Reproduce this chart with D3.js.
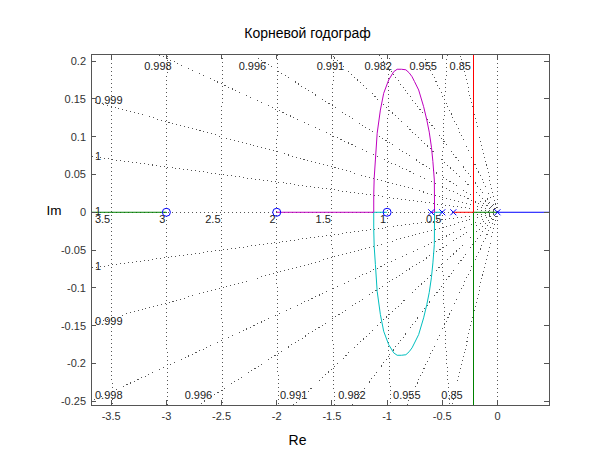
<!DOCTYPE html>
<html>
<head>
<meta charset="utf-8">
<script src="https://cdn.jsdelivr.net/npm/d3@7"></script>
<style>
    body { margin: 0; background: #fff; }
    svg { display: block; font-family: "Liberation Sans", Arial, sans-serif; }
</style>
</head>
<body>
<div id="chart"></div>
<script>
// open loop poles / zeros (real axis)
const poles = [0, -0.4, -0.5, -0.6];
const zeros = [-1, -2, -3];

// upper half of the complex loop, from break-away to break-in point
const loopRe = [-0.570, -0.572, -0.585, -0.598, -0.618, -0.640, -0.669, -0.714, -0.752, -0.774, -0.800, -0.830,
    -0.870, -0.909, -0.940, -0.986, -1.031, -1.061, -1.090, -1.106, -1.117, -1.121, -1.121];
const loopIm = [0, 0.0427, 0.067, 0.086, 0.106, 0.122, 0.1397, 0.1618, 0.173, 0.1794, 0.1845, 0.1885,
    0.1892, 0.1892, 0.186, 0.175, 0.1574, 0.1352, 0.1045, 0.0692, 0.045, 0.0229, 0];

// centre of the vertical asymptotes
const asymptoteRe = -0.217;

const xTicks = [-3.5, -3, -2.5, -2, -1.5, -1, -0.5, 0];
const yTicks = [-0.25, -0.2, -0.15, -0.1, -0.05, 0, 0.05, 0.1, 0.15, 0.2];
const xDomain = [-3.683, 0.467];
const yDomain = [-0.255, 0.209];

// sgrid: damping ratio rays and natural frequency circles
const zetaValues = [1, 0.9998, 0.9992, 0.9977, 0.9956, 0.9906, 0.9818, 0.955, 0.85, 0];
const zetaLabels = ["1", "1", "0.999", "0.998", "0.996", "0.991", "0.982", "0.955", "0.85", ""];
const wnValues = [0.5, 1, 1.5, 2, 2.5, 3, 3.5];

const titleText = "Корневой годограф";
const xLabelText = "Re";
const yLabelText = "Im";

class RootLocusChart {
    constructor(container) {
        this.width = 607;
        this.height = 456;
        this.box = { left: 91, right: 549, top: 54.3, bottom: 405 };
        this.colors = {
            blue: "#0000ff",
            green: "#008000",
            red: "#ff0000",
            cyan: "#00bfbf",
            magenta: "#bf00bf",
        };
        this._initContainer(container);
        this.x = d3.scaleLinear().domain(xDomain).range([this.box.left, this.box.right]);
        this.y = d3.scaleLinear().domain(yDomain).range([this.box.bottom, this.box.top]);
    }

    Draw() {
        this._drawGrid();
        this._drawLocus();
        this._drawMarkers();
        this._drawAxes();
        this._drawLabels();
    }

    _initContainer(container) {
        this.svg = d3.select(container).append("svg")
            .attr("width", this.width)
            .attr("height", this.height);

        this.svg.append("defs").append("clipPath").attr("id", "plot-clip")
            .append("rect")
            .attr("x", this.box.left)
            .attr("y", this.box.top)
            .attr("width", this.box.right - this.box.left)
            .attr("height", this.box.bottom - this.box.top);

        this.plot = this.svg.append("g").attr("clip-path", "url(#plot-clip)");
    }

    _drawGrid() {
        const x = this.x, y = this.y;
        const g = this.plot.append("g")
            .attr("fill", "none")
            .attr("stroke", "#555")
            .attr("stroke-width", 1)
            .attr("stroke-dasharray", "1,3")
            .attr("shape-rendering", "crispEdges");
        const line = d3.line().x(d => x(d[0])).y(d => y(d[1]));

        // damping rays, upper and lower
        zetaValues.forEach(z => {
            const s = Math.sqrt(1 - z * z);
            g.append("path").attr("d", line([[0, 0], [-10 * z, 10 * s]]));
            if (s > 0)
                g.append("path").attr("d", line([[0, 0], [-10 * z, -10 * s]]));
        });

        // natural frequency half circles
        const angles = d3.range(0, 181).map(a => (90 + a) * Math.PI / 180);
        wnValues.forEach(wn => {
            g.append("path").attr("d", line(angles.map(t => [wn * Math.cos(t), wn * Math.sin(t)])));
        });

        // grid labels
        const lg = this.svg.append("g")
            .attr("font-size", 11)
            .attr("fill", "#222");

        wnValues.forEach(wn => {
            lg.append("text")
                .attr("x", x(-wn) - 1)
                .attr("y", y(0) + 11)
                .attr("text-anchor", "end")
                .text(d3.format("~g")(wn));
        });

        const b = this.box;
        const x0 = x(0), y0 = y(0);
        const kx = x(0) - x(-1), ky = y(0) - y(1);
        zetaValues.forEach((z, i) => {
            const label = zetaLabels[i];
            if (!label) return;
            const dx = z * kx, dy = Math.sqrt(1 - z * z) * ky;
            const sides = dy > 0 ? [1, -1] : [1];
            sides.forEach(sign => {
                const distY = sign > 0 ? y0 - b.top : b.bottom - y0;
                const distX = x0 - b.left;
                if (dy > 0 && distY / dy * dx <= distX) {
                    // crosses top or bottom edge
                    lg.append("text")
                        .attr("x", x0 - distY / dy * dx)
                        .attr("y", sign > 0 ? b.top + 15.2 : b.bottom - 6.5)
                        .attr("text-anchor", "middle")
                        .text(label);
                } else {
                    // crosses left edge
                    let py = y0 - sign * (dx > 0 ? (distX - 4) / dx * dy : 0) - 1.5;
                    py = Math.max(b.top + 11.5, Math.min(b.bottom - 10.5, py));
                    lg.append("text")
                        .attr("x", b.left + 4)
                        .attr("y", py + 4)
                        .attr("text-anchor", "start")
                        .text(label);
                }
            });
        });
    }

    _drawLocus() {
        const x = this.x, y = this.y, c = this.colors;
        const upper = loopRe.map((re, i) => [re, loopIm[i]]);
        const lower = upper.map(d => [d[0], -d[1]]);

        const branches = [
            { color: c.blue, pts: [[poles[0], 0], [10, 0]] },
            { color: c.green, pts: [[zeros[2], 0], [-10, 0]] },
            { color: c.green, pts: [[poles[0], 0], [asymptoteRe, 0], [asymptoteRe, -10]] },
            { color: c.red, pts: [[poles[1], 0], [asymptoteRe, 0], [asymptoteRe, 10]] },
            { color: c.cyan, pts: [[poles[2], 0]].concat(lower, [[zeros[0], 0]]) },
            { color: c.magenta, pts: [[poles[3], 0]].concat(upper, [[zeros[1], 0]]) },
        ];

        const line = d3.line().x(d => x(d[0])).y(d => y(d[1]));
        this.plot.append("g")
            .attr("fill", "none")
            .attr("stroke-width", 1)
            .selectAll("path")
            .data(branches)
            .join("path")
            .attr("stroke", d => d.color)
            .attr("d", d => line(d.pts));
    }

    _drawMarkers() {
        const x = this.x, y = this.y;
        const g = this.plot.append("g")
            .attr("fill", "none")
            .attr("stroke", this.colors.blue)
            .attr("stroke-width", 1);

        const s = 3;
        poles.forEach(p => {
            const px = x(p), py = y(0);
            g.append("path")
                .attr("d", `M${px - s},${py - s}L${px + s},${py + s}M${px - s},${py + s}L${px + s},${py - s}`);
        });

        zeros.forEach(zr => {
            g.append("circle")
                .attr("cx", x(zr))
                .attr("cy", y(0))
                .attr("r", 4);
        });
    }

    _drawAxes() {
        const x = this.x, y = this.y, b = this.box;
        const g = this.svg.append("g")
            .attr("stroke", "#555")
            .attr("stroke-width", 1)
            .attr("fill", "none")
            .attr("shape-rendering", "crispEdges");

        g.append("rect")
            .attr("x", b.left)
            .attr("y", b.top)
            .attr("width", b.right - b.left)
            .attr("height", b.bottom - b.top);

        const tl = 5;
        xTicks.forEach(t => {
            g.append("line").attr("x1", x(t)).attr("x2", x(t)).attr("y1", b.bottom).attr("y2", b.bottom - tl);
            g.append("line").attr("x1", x(t)).attr("x2", x(t)).attr("y1", b.top).attr("y2", b.top + tl);
        });
        yTicks.forEach(t => {
            g.append("line").attr("x1", b.left).attr("x2", b.left + tl).attr("y1", y(t)).attr("y2", y(t));
            g.append("line").attr("x1", b.right).attr("x2", b.right - tl).attr("y1", y(t)).attr("y2", y(t));
        });

        const tg = this.svg.append("g")
            .attr("font-size", 11)
            .attr("fill", "#333");

        tg.selectAll(".xt").data(xTicks).join("text")
            .attr("x", d => x(d))
            .attr("y", b.bottom + 15)
            .attr("text-anchor", "middle")
            .text(d => d3.format("~g")(d).replace("−", "-"));

        tg.selectAll(".yt").data(yTicks).join("text")
            .attr("x", b.left - 5)
            .attr("y", d => y(d) + 4)
            .attr("text-anchor", "end")
            .text(d => d3.format("~g")(d).replace("−", "-"));
    }

    _drawLabels() {
        this.svg.append("text")
            .attr("x", 307.5)
            .attr("y", 38)
            .attr("text-anchor", "middle")
            .attr("font-size", 14)
            .text(titleText);

        this.svg.append("text")
            .attr("x", 297.5)
            .attr("y", 445)
            .attr("text-anchor", "middle")
            .attr("font-size", 14)
            .text(xLabelText);

        this.svg.append("text")
            .attr("x", 54)
            .attr("y", 215)
            .attr("text-anchor", "middle")
            .attr("font-size", 13.5)
            .text(yLabelText);
    }
}

const chart = new RootLocusChart("#chart");
chart.Draw();
</script>
</body>
</html>
